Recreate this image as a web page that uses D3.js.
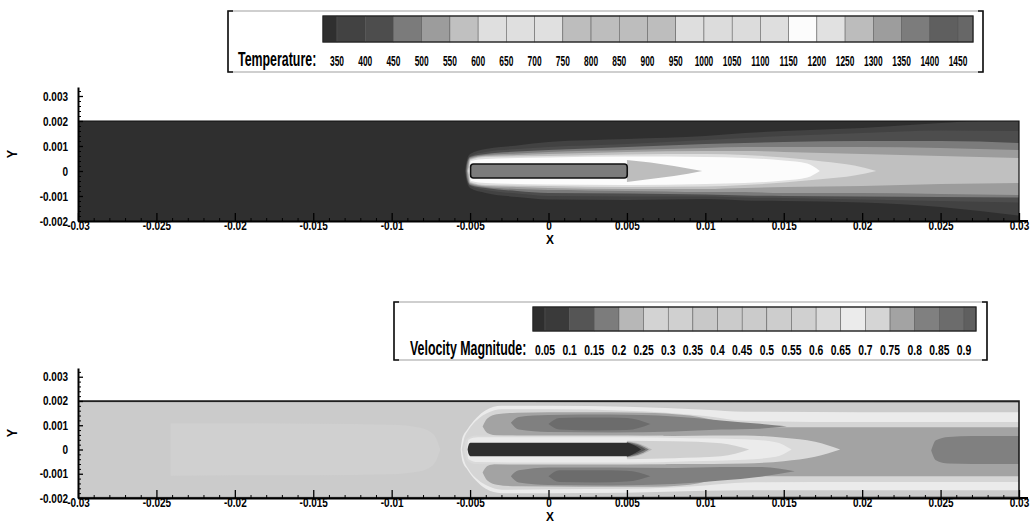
<!DOCTYPE html>
<html>
<head>
<meta charset="utf-8">
<script src="https://cdn.jsdelivr.net/npm/d3@7"></script>
<style>
  body { margin: 0; background: #fff; }
  svg text { font-family: "Liberation Sans", Arial, Helvetica, sans-serif; font-weight: bold; fill: #000; }
</style>
</head>
<body>
<svg id="chart" width="1034" height="524"></svg>
<script>
// ---- axis ticks
const xTicks = [-0.03, -0.025, -0.02, -0.015, -0.01, -0.005, 0, 0.005, 0.01, 0.015, 0.02, 0.025, 0.03];
const xTickLabels = ["-0.03", "-0.025", "-0.02", "-0.015", "-0.01", "-0.005", "0", "0.005", "0.01", "0.015", "0.02", "0.025", "0.03"];
const yTicks = [-0.002, -0.001, 0, 0.001, 0.002, 0.003];
const yTickLabels = ["-0.002", "-0.001", "0", "0.001", "0.002", "0.003"];

// ---- colour maps (one more colour than levels: below first / above last)
const tempLevels = [350, 400, 450, 500, 550, 600, 650, 700, 750, 800, 850, 900, 950, 1000, 1050, 1100, 1150, 1200, 1250, 1300, 1350, 1400, 1450];
const tempColors = ["#2f2f2f", "#424242", "#4d4d4d", "#7b7b7b", "#9c9c9c", "#c0c0c0", "#dfdfdf", "#dfdfdf", "#e0e0e0", "#bdbdbd", "#bdbdbd", "#bdbdbd", "#bdbdbd",
  "#dedede", "#dcdcdc", "#dcdcdc", "#dedede", "#fcfcfc", "#e1e1e1", "#bcbcbc", "#9d9d9d", "#7c7c7c", "#5f5f5f", "#676767"];
const velLevels = [0.05, 0.1, 0.15, 0.2, 0.25, 0.3, 0.35, 0.4, 0.45, 0.5, 0.55, 0.6, 0.65, 0.7, 0.75, 0.8, 0.85, 0.9];
const velColors = ["#2e2e2e", "#3a3a3a", "#555555", "#7c7c7c", "#b7b7b7", "#d3d3d3", "#d0d0d0", "#c8c8c8", "#cbcbcb", "#cbcbcb",
  "#cdcdcd", "#d0d0d0", "#dadada", "#ebebeb", "#d5d5d5", "#a3a3a3", "#808080", "#6c6c6c", "#5f5f5f"];

// ---- temperature contour bands: [x, y edge 1, y edge 2]
const tBand1 = [[-0.00532, 0, 0], [-0.0052, 0.00044, -0.00044], [-0.005, 0.00068, -0.00068], [-0.004, 0.00088, -0.00088], [-0.002, 0.00102, -0.00104],
  [0, 0.00116, -0.00114], [0.005, 0.00128, -0.00116], [0.01, 0.0014, -0.00112], [0.0125, 0.00152, -0.00118], [0.015, 0.0016, -0.0012],
  [0.02, 0.00172, -0.00126], [0.025, 0.00192, -0.00144], [0.0275, 0.002, -0.0016], [0.03, 0.002, -0.00178]];
const tBand2 = [[-0.00528, 0, 0], [-0.0052, 0.00036, -0.00036], [-0.005, 0.0006, -0.0006], [-0.004, 0.00076, -0.00076], [-0.002, 0.00088, -0.0009],
  [0, 0.00096, -0.001], [0.005, 0.00108, -0.00102], [0.01, 0.00124, -0.00102], [0.0125, 0.00132, -0.00106], [0.015, 0.0014, -0.00108],
  [0.02, 0.00152, -0.00114], [0.025, 0.00162, -0.0012], [0.03, 0.0016, -0.00126]];
const tBand3 = [[-0.00524, 0, 0], [-0.0052, 0.00028, -0.00028], [-0.005, 0.00056, -0.00056], [-0.004, 0.00068, -0.00068], [-0.002, 0.00078, -0.0008],
  [0, 0.00084, -0.00088], [0.005, 0.00096, -0.0009], [0.01, 0.00108, -0.00094], [0.0125, 0.00112, -0.00098], [0.015, 0.00116, -0.001],
  [0.02, 0.0012, -0.00102], [0.025, 0.0012, -0.00104], [0.03, 0.00112, -0.00106]];
const tBand4 = [[-0.0052, 0, 0], [-0.00515, 0.00024, -0.00024], [-0.005, 0.00052, -0.00052], [-0.004, 0.00064, -0.00064], [-0.002, 0.0007, -0.00072],
  [0, 0.00076, -0.00076], [0.005, 0.00084, -0.0008], [0.01, 0.00092, -0.00084], [0.0125, 0.00096, -0.00084], [0.015, 0.00096, -0.00088],
  [0.02, 0.00096, -0.00088], [0.025, 0.00092, -0.00092], [0.03, 0.00084, -0.00096]];
const tBand5 = [[-0.00516, 0, 0], [-0.0051, 0.0002, -0.0002], [-0.005, 0.00048, -0.00048], [-0.004, 0.0006, -0.0006], [-0.002, 0.00064, -0.00064],
  [0, 0.00068, -0.00068], [0.005, 0.00076, -0.00072], [0.01, 0.0008, -0.00072], [0.0125, 0.0008, -0.00068], [0.015, 0.00076, -0.00064],
  [0.02, 0.00068, -0.0006], [0.025, 0.0006, -0.00052], [0.03, 0.00052, -0.00048]];
const tBand6 = [[-0.00512, 0, 0], [-0.00505, 0.0002, -0.0002], [-0.005, 0.00044, -0.00044], [-0.004, 0.00056, -0.00056], [0, 0.0006, -0.0006],
  [0.005, 0.00066, -0.00064], [0.01, 0.00068, -0.00062], [0.0125, 0.00064, -0.00056], [0.015, 0.00054, -0.00046], [0.0175, 0.00038, -0.00032],
  [0.0195, 0.00022, -0.00018], [0.0209, 0, 0]];
const tBand7 = [[-0.00508, 0, 0], [-0.00502, 0.0002, -0.0002], [-0.00495, 0.0004, -0.0004], [-0.004, 0.00048, -0.00048], [0, 0.00054, -0.00054],
  [0.005, 0.00058, -0.00056], [0.01, 0.00056, -0.00052], [0.0125, 0.00052, -0.00048], [0.015, 0.00042, -0.00038], [0.0165, 0.0003, -0.00026],
  [0.0173, 0, 0]];
const tWake = [[0.005, 0.00044, -0.00044], [0.0065, 0.00034, -0.00032], [0.008, 0.0002, -0.0002], [0.0098, 0, 0]];
const tempBands = [
  { level: 1, pts: tBand1 }, { level: 2, pts: tBand2 }, { level: 3, pts: tBand3 }, { level: 4, pts: tBand4 },
  { level: 5, pts: tBand5 }, { level: 6, pts: tBand6 }, { level: 17, pts: tBand7 }, { level: 9, pts: tWake }
];
const rodX = [-0.00497, 0.00502];
const rodY = [-0.00028, 0.00028];
const rodLevel = 21;

// ---- velocity contour bands
const vWallTop = [[-0.03, 0.002, 0.00193], [0.03, 0.002, 0.00192]];
const vWallBot = [[-0.03, -0.002, -0.00193], [0.03, -0.002, -0.00192]];
const vWallTopIn = [[-0.03, 0.002, 0.00196], [0.03, 0.002, 0.00195]];
const vWallBotIn = [[-0.03, -0.002, -0.00196], [0.03, -0.002, -0.00195]];
const vInlet = [[-0.0241, 0.00108, -0.00108], [-0.02, 0.00108, -0.00106], [-0.015, 0.00106, -0.00106], [-0.01, 0.00102, -0.00102],
  [-0.0082, 0.0009, -0.0009], [-0.0073, 0.0006, -0.0006], [-0.0069, 0, 0]];
const vWhite1 = [[-0.0056, 0, 0], [-0.0055, 0.00045, -0.00045], [-0.0052, 0.0008, -0.0008], [-0.0046, 0.0013, -0.0013], [-0.004, 0.00162, -0.00162],
  [-0.003, 0.0018, -0.0018], [0, 0.0018, -0.0018], [0.005, 0.00176, -0.00178], [0.01, 0.00164, -0.0017], [0.0125, 0.00156, -0.00168],
  [0.02, 0.00154, -0.00168], [0.03, 0.00154, -0.00168]];
const vRing = [[-0.00553, 0, 0], [-0.0054, 0.0004, -0.0004], [-0.0051, 0.0008, -0.0008], [-0.0045, 0.00125, -0.00125], [-0.0039, 0.0015, -0.0015],
  [-0.003, 0.00166, -0.00166], [0, 0.00166, -0.00164], [0.005, 0.0016, -0.00162], [0.01, 0.00138, -0.00148], [0.0125, 0.00118, -0.00136],
  [0.02, 0.00113, -0.00134], [0.03, 0.00113, -0.00134]];
const vCore = [[0.006, 0, 0], [0.008, 0.0008, -0.0008], [0.01, 0.0011, -0.0012], [0.0125, 0.00098, -0.00112], [0.015, 0.00092, -0.0011],
  [0.02, 0.00092, -0.0011], [0.03, 0.00092, -0.0011]];
const vLobeUp1 = [[-0.0042, 0.00095, 0.00095], [-0.0039, 0.00128, 0.00068], [-0.0033, 0.00145, 0.00058], [-0.002, 0.00152, 0.00056],
  [0.002, 0.00154, 0.00056], [0.006, 0.00152, 0.00056], [0.009, 0.0014, 0.0006], [0.011, 0.00115, 0.0006], [0.0125, 0.00098, 0.0006]];
const vLobeDn1 = [[-0.0042, -0.00095, -0.00095], [-0.0039, -0.00068, -0.00128], [-0.0033, -0.0006, -0.00145], [-0.002, -0.0006, -0.00152],
  [0.002, -0.0006, -0.00154], [0.006, -0.0006, -0.00154], [0.009, -0.00062, -0.00145], [0.011, -0.00062, -0.0012], [0.0125, -0.00062, -0.00112]];
const vLobeUp2 = [[-0.0024, 0.0011, 0.0011], [-0.0019, 0.00134, 0.00082], [0, 0.00142, 0.00072], [0.004, 0.00144, 0.0007],
  [0.008, 0.00136, 0.00074], [0.011, 0.0012, 0.00082], [0.0135, 0.00106, 0.00086], [0.0152, 0.00096, 0.00096]];
const vLobeDn2 = [[-0.0024, -0.0011, -0.0011], [-0.0019, -0.00086, -0.00136], [0, -0.00074, -0.00146], [0.004, -0.00074, -0.00148],
  [0.008, -0.00076, -0.00142], [0.011, -0.00072, -0.00128], [0.0135, -0.00072, -0.00112], [0.0157, -0.0009, -0.0009]];
const vLobeUp3 = [[0.0, 0.00105, 0.00105], [0.0007, 0.0013, 0.00082], [0.003, 0.00132, 0.00078], [0.005, 0.0013, 0.0008], [0.0065, 0.00105, 0.00105]];
const vLobeDn3 = [[0.0, -0.0011, -0.0011], [0.0007, -0.00086, -0.00134], [0.003, -0.00086, -0.00136], [0.005, -0.00088, -0.00132], [0.0065, -0.0011, -0.0011]];
const vWake1 = [[-0.0054, 0, 0], [-0.0052, 0.00045, -0.00045], [-0.0046, 0.00058, -0.0006], [0, 0.00058, -0.00062], [0.005, 0.00058, -0.00062],
  [0.008, 0.00056, -0.0006], [0.0105, 0.00058, -0.0006], [0.0125, 0.00058, -0.00058], [0.015, 0.00048, -0.00048], [0.017, 0.00032, -0.0003], [0.0186, 0, 0]];
const vWake2 = [[-0.0052, 0, 0], [-0.0051, 0.0004, -0.0004], [-0.0045, 0.0005, -0.00052], [0, 0.0005, -0.00054], [0.005, 0.0005, -0.00054],
  [0.009, 0.00046, -0.00048], [0.0125, 0.00042, -0.00042], [0.0145, 0.0003, -0.0003], [0.0155, 0, 0]];
const vWake3 = [[0.005, 0.00036, -0.0004], [0.008, 0.00034, -0.00036], [0.011, 0.00026, -0.00028], [0.0128, 0, 0]];
const vBlob = [[0.0244, -0.00004, -0.00004], [0.0247, 0.00038, -0.00044], [0.0255, 0.00052, -0.00058], [0.027, 0.00056, -0.0006], [0.03, 0.00056, -0.0006]];
const vTail4 = [[0.005, 0.00034, -0.00034], [0.0058, 0.00024, -0.00024], [0.0066, 0, 0]];
const vTail3 = [[0.005, 0.00031, -0.00031], [0.0058, 0.0002, -0.0002], [0.0064, 0, 0]];
const vTail2 = [[0.005, 0.00029, -0.00029], [0.0057, 0.00016, -0.00016], [0.0062, 0, 0]];
const vRod = [[-0.00516, 0, 0], [-0.0051, 0.00018, -0.00018], [-0.00498, 0.00028, -0.00028], [0.005, 0.00028, -0.00028], [0.0055, 0.00016, -0.00016], [0.0059, 0, 0]];
const velBands = [
  { level: 11, pts: vInlet }, { level: 13, pts: vWhite1 }, { level: 14, pts: vRing }, { level: 15, pts: vCore },
  { level: 15, pts: vLobeUp1 }, { level: 15, pts: vLobeDn1 }, { level: 16, pts: vLobeUp2 }, { level: 16, pts: vLobeDn2 },
  { level: 17, pts: vLobeUp3 }, { level: 17, pts: vLobeDn3 }, { level: 12, pts: vWake1 }, { level: 13, pts: vWake2 },
  { level: 11, pts: vWake3 }, { level: 16, pts: vBlob }, { level: 4, pts: vTail4 }, { level: 3, pts: vTail3 },
  { level: 2, pts: vTail2 }, { level: 0, pts: vRod },
  { level: 4, pts: vWallTop }, { level: 4, pts: vWallBot }, { level: 1, pts: vWallTopIn }, { level: 1, pts: vWallBotIn }
];
const velBackground = 8;

// ---- drawing
const svg = d3.select("#chart");
const x = d3.scaleLinear([-0.03, 0.03], [78, 1019]);
const yTemp = d3.scaleLinear([-0.002, 0.00336], [221, 87]);
const yVel = d3.scaleLinear([-0.002, 0.00336], [498, 368]);

function txt(sel, s, px, py, size, sx, anchor) {
  return sel.append("text")
    .attr("transform", `translate(${px},${py}) scale(${sx},1)`)
    .attr("font-size", size)
    .attr("text-anchor", anchor || "middle")
    .text(s);
}

function panel(id, ys, bgColor, bands, colors) {
  const g = svg.append("g");
  g.append("clipPath").attr("id", id)
    .append("rect")
    .attr("x", x(-0.03)).attr("y", ys(0.002))
    .attr("width", x(0.03) - x(-0.03)).attr("height", ys(-0.002) - ys(0.002));
  const f = g.append("g").attr("clip-path", `url(#${id})`);
  f.append("rect")
    .attr("x", x(-0.03)).attr("y", ys(0.002))
    .attr("width", x(0.03) - x(-0.03)).attr("height", ys(-0.002) - ys(0.002))
    .attr("fill", bgColor);
  const area = d3.area()
    .x(d => x(d[0])).y0(d => ys(d[1])).y1(d => ys(d[2]))
    .curve(d3.curveMonotoneX);
  f.selectAll("path.band")
    .data(bands)
    .join("path")
    .attr("class", "band")
    .attr("d", b => area(b.pts))
    .attr("fill", b => colors[b.level]);
  return { g, f };
}

function axes(g, ys, xLabelY) {
  const xMinor = d3.range(-30, 31).map(v => v / 1000).filter(v => Math.round(v * 1000) % 5 !== 0);
  const yMinor = d3.range(-10, 17).map(v => v / 5000).filter(v => Math.round(v * 5000) % 5 !== 0);

  g.append("g").attr("transform", `translate(0,${ys(-0.002)})`)
    .call(d3.axisBottom(x).tickValues(xMinor).tickSize(-3).tickSizeOuter(0).tickFormat(""))
    .call(a => a.select(".domain").remove());
  g.append("g").attr("transform", `translate(${x(-0.03)},0)`)
    .call(d3.axisLeft(ys).tickValues(yMinor).tickSize(-3).tickSizeOuter(0).tickFormat(""))
    .call(a => a.select(".domain").remove());

  const xa = g.append("g").attr("transform", `translate(0,${ys(-0.002)})`)
    .call(d3.axisBottom(x).tickValues(xTicks).tickSize(-8).tickSizeOuter(0).tickPadding(0.5)
      .tickFormat((d, i) => xTickLabels[i]));
  xa.select(".domain").attr("stroke-width", 2.2);
  xa.selectAll(".tick line").attr("stroke-width", 1.3);
  xa.selectAll("text").attr("font-size", 12.5).attr("transform", "scale(0.8,1)")
    .attr("font-family", null);

  const ya = g.append("g").attr("transform", `translate(${x(-0.03)},0)`)
    .call(d3.axisLeft(ys).tickValues(yTicks).tickSize(-5).tickSizeOuter(0).tickPadding(10)
      .tickFormat((d, i) => yTickLabels[i]));
  ya.select(".domain").attr("stroke-width", 2);
  ya.selectAll(".tick line").attr("stroke-width", 1.3);
  ya.selectAll("text").attr("font-size", 12.5).attr("transform", "scale(0.8,1)")
    .attr("x", -10 / 0.8).attr("font-family", null);

  g.selectAll(".tick line").attr("stroke", "#000");
  g.selectAll(".domain").attr("stroke", "#000");

  // axis line runs a little past the last tick
  g.append("line")
    .attr("x1", x(0.03)).attr("x2", x(0.03) + 9)
    .attr("y1", ys(-0.002)).attr("y2", ys(-0.002))
    .attr("stroke", "#000").attr("stroke-width", 2);

  txt(g, "X", 550, xLabelY, 12.5, 0.95);
  const yMid = (ys(-0.002) + ys(0.00336)) / 2;
  g.append("text")
    .attr("transform", `translate(17,${yMid}) rotate(-90) scale(0.9,1)`)
    .attr("font-size", 14).attr("text-anchor", "middle").text("Y");
}

function frame(g, ys, color, width) {
  g.append("path")
    .attr("d", `M${x(-0.03)},${ys(0.002)}H${x(0.03)}V${ys(-0.002)}`)
    .attr("fill", "none").attr("stroke", color).attr("stroke-width", width);
}

function legend(box, bar, levels, colors, labels, title, titleX, baseY, numSize, numSx) {
  const g = svg.append("g");
  const s = d3.scaleLinear([levels[0], levels[levels.length - 1]], [bar[4], bar[5]]);
  g.append("rect")
    .attr("x", box[0]).attr("y", box[1]).attr("width", box[2] - box[0]).attr("height", box[3] - box[1])
    .attr("fill", "#fff").attr("stroke", "#888").attr("stroke-width", 0.8);
  g.append("path")
    .attr("d", `M${box[0] + 5},${box[1]}H${box[0]}V${box[3]}H${box[0] + 5}M${box[2] - 5},${box[1]}H${box[2]}V${box[3]}H${box[2] - 5}`)
    .attr("fill", "none").attr("stroke", "#111").attr("stroke-width", 1.6);

  const edges = [bar[0], ...levels.map(s), bar[2]];
  g.selectAll("rect.cell")
    .data(colors)
    .join("rect")
    .attr("class", "cell")
    .attr("x", (c, i) => edges[i]).attr("y", bar[1])
    .attr("width", (c, i) => edges[i + 1] - edges[i]).attr("height", bar[3] - bar[1])
    .attr("fill", c => c).attr("stroke", "#555").attr("stroke-width", 0.5);
  g.append("rect")
    .attr("x", bar[0]).attr("y", bar[1]).attr("width", bar[2] - bar[0]).attr("height", bar[3] - bar[1])
    .attr("fill", "none").attr("stroke", "#222").attr("stroke-width", 1.3);

  levels.forEach((v, i) => txt(g, labels[i], s(v), baseY, numSize, numSx));
  txt(g, title, titleX, baseY, 20, 0.62, "start");
}

// temperature panel
const tempPanel = panel("clipT", yTemp, tempColors[0], tempBands, tempColors);
tempPanel.f.append("rect")
  .attr("x", x(rodX[0])).attr("y", yTemp(rodY[1]))
  .attr("width", x(rodX[1]) - x(rodX[0])).attr("height", yTemp(rodY[0]) - yTemp(rodY[1]))
  .attr("rx", 3).attr("fill", tempColors[rodLevel]).attr("stroke", "#111").attr("stroke-width", 1.6);
frame(tempPanel.g, yTemp, "#111", 1.2);
axes(tempPanel.g, yTemp, 244);

// velocity panel
const velPanel = panel("clipV", yVel, velColors[velBackground], velBands, velColors);
frame(velPanel.g, yVel, "#1a1a1a", 1.6);
axes(velPanel.g, yVel, 521.3);

// legends
legend([228, 11, 983, 72], [323, 16, 973, 42, 337, 958], tempLevels, tempColors,
  tempLevels.map(String), "Temperature:", 238, 66, 15, 0.56);
legend([394, 302, 987, 360], [533, 307, 976, 331, 545, 964], velLevels, velColors,
  velLevels.map(String), "Velocity Magnitude:", 410, 355, 14, 0.74);
</script>
</body>
</html>
